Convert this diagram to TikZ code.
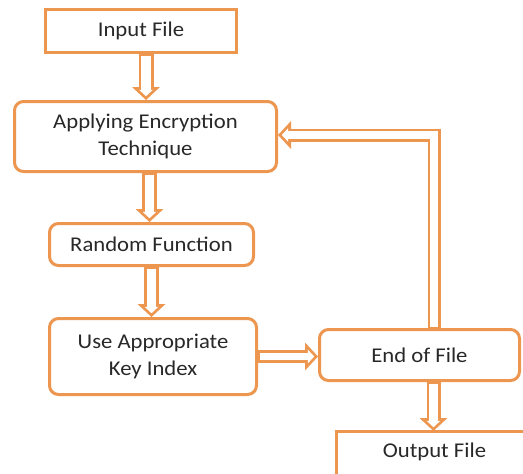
\documentclass[tikz,border=0pt]{standalone}
\usepackage{fontspec}
\setmainfont{Carlito}[FakeStretch=1.08]
\usetikzlibrary{arrows.meta}
\definecolor{flow}{RGB}{236,150,80}
\definecolor{ink}{RGB}{40,40,40}
\tikzset{
  box/.style={draw=flow, line width=3pt, fill=white, text=ink, align=center,
    inner sep=0pt, font=\fontsize{21}{27}\selectfont},
  roundbox/.style={box, rounded corners=9pt},
  edge/.style={draw=flow, line width=3pt, line join=miter},
  % hollow block arrow: orange body, white inside, white core joining shaft and head
  arrow outer/.style={draw=flow, line width=#1, line join=miter,
    -{Triangle[length=13pt,width=28pt,line width=0pt]}},
  arrow inner/.style={draw=white, line width=#1, line join=miter,
    shorten <=1.5pt, shorten >=3.8pt,
    -{Triangle[length=6.4pt,width=13.8pt,line width=0pt]}},
  arrow core/.style={draw=white, line width=#1, line join=miter,
    shorten <=1.5pt, shorten >=8.8pt},
}
% \flowarrow{shaft width}{inside width}{path}
\newcommand\flowarrow[3]{%
  \draw[arrow outer=#1] #3;
  \draw[arrow inner=#2] #3;
  \draw[arrow core=#2] #3;}
\begin{document}
\begin{tikzpicture}[x=1pt,y=-1pt]
  \useasboundingbox (0,0) rectangle (523,474);
  \clip (0,0) rectangle (523,474);

  \node[box, minimum width=191pt, minimum height=43pt] (inp) at (141,31) {Input File};
  \node[roundbox, minimum width=262pt, minimum height=70pt] (enc) at (145.5,136.5)
    {Applying Encryption\\Technique};
  \node[roundbox, minimum width=204pt, minimum height=42pt] (rnd) at (151.5,244.5)
    {Random Function};
  \node[roundbox, minimum width=207pt, minimum height=76pt] (key) at (153,356.5)
    {Use Appropriate\\Key Index};
  \node[roundbox, minimum width=200pt, minimum height=51pt] (eof) at (419.5,355)
    {End of File};
  % the output box runs past the right and bottom edges of the sheet
  \node[box, draw=none, minimum width=194pt, minimum height=46pt,
    text height=14.7pt, text depth=11.7pt] (out) at (434.5,455.5) {Output File};
  \draw[edge] (out.south west) |- (out.north east);

  \flowarrow{15pt}{9.5pt}{([xshift=5pt]inp.south) -- ([xshift=5pt]inp.south |- enc.north)}
  \flowarrow{15pt}{9.5pt}{([xshift=4pt]enc.south) -- ([xshift=4pt]enc.south |- rnd.north)}
  \flowarrow{15pt}{9.5pt}{(rnd.south) -- (rnd.south |- key.north)}
  \flowarrow{13pt}{7.5pt}{(key.east) -- (key.east -| eof.west)}
  \flowarrow{14pt}{8.5pt}{([xshift=14pt]eof.south) -- ([xshift=14pt]eof.south |- out.north)}
  \flowarrow{13pt}{7.5pt}{([xshift=14.5pt]eof.north) |- ([yshift=1.5pt]enc.east)}
\end{tikzpicture}
\end{document}
